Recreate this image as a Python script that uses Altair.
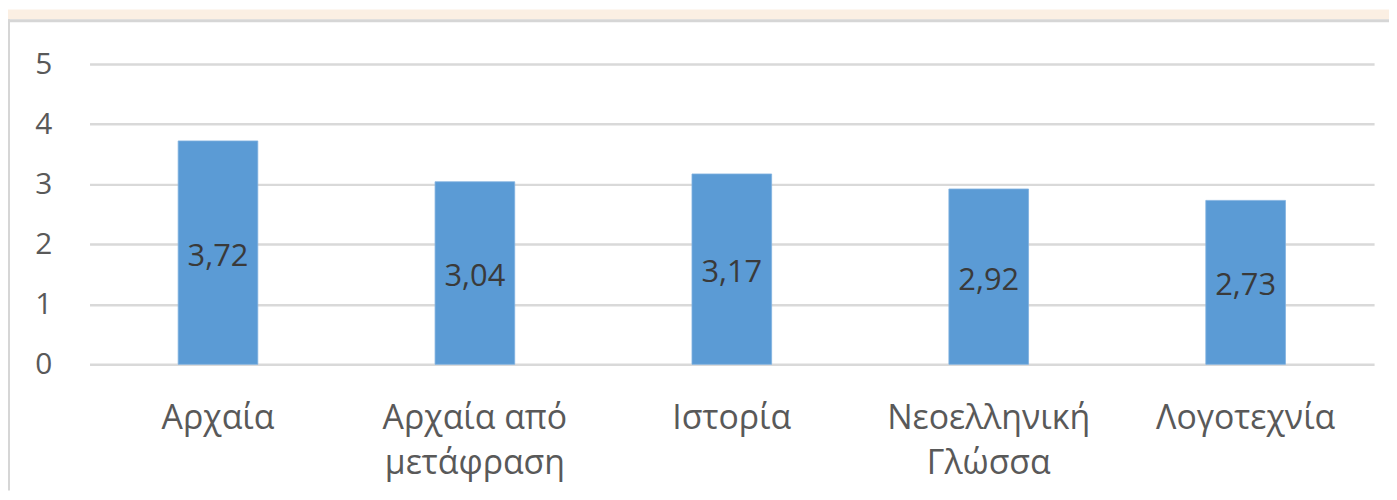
import altair as alt
import pandas as pd

categories = ["Αρχαία", "Αρχαία από\nμετάφραση", "Ιστορία", "Νεοελληνική\nΓλώσσα", "Λογοτεχνία"]
values = [3.72, 3.04, 3.17, 2.92, 2.73]
y_ticks = [0, 1, 2, 3, 4, 5]

df = pd.DataFrame({"cat": categories, "val": values})

FONT = "Open Sans"
W, H = 1292, 302

x_enc = alt.X("cat:N", sort=categories, title=None,
              scale=alt.Scale(paddingInner=0.69, paddingOuter=0.345),
              axis=alt.Axis(labelAngle=0, labelFontSize=34, labelColor="#595959",
                            labelFont=FONT, labelPadding=38, ticks=False, domain=False,
                            labelBaseline="top", labelLineHeight=45, labelLimit=400,
                            labelExpr="split(datum.label, '\\n')"))
y_enc = alt.Y("val:Q", title=None,
              scale=alt.Scale(domain=[0, 5], nice=False),
              axis=alt.Axis(values=y_ticks, format="d", labelFontSize=30, labelColor="#595959",
                            labelFont=FONT, labelPadding=38, ticks=False, domain=False,
                            gridColor="#D9D9D9", gridWidth=2.5))

base = alt.Chart(df)
bars = base.mark_bar(color="#5B9BD5", stroke="#7FB1E0", strokeWidth=0.8).encode(x=x_enc, y=y_enc)

labels = base.transform_calculate(
    half="datum.val / 2",
    lab="replace(format(datum.val, '.2f'), '.', ',')"
).mark_text(font=FONT, fontSize=31, color="#3A3A3A", baseline="middle", dy=4).encode(
    x=alt.X("cat:N", sort=categories),
    y=alt.Y("half:Q"),
    text="lab:N",
)

deco = pd.DataFrame({"a": [0]})
top_band = alt.Chart(deco).mark_rect(color="#FBEFE3").encode(
    x=alt.value(-82), x2=alt.value(W + 15), y=alt.value(-55), y2=alt.value(-45))
top_line = alt.Chart(deco).mark_rect(color="#D6D6D6").encode(
    x=alt.value(-82), x2=alt.value(W + 15), y=alt.value(-45), y2=alt.value(-42))
left_line = alt.Chart(deco).mark_rect(color="#D6D6D6").encode(
    x=alt.value(-82), x2=alt.value(-80), y=alt.value(-45), y2=alt.value(H + 127))

chart = alt.layer(top_band, top_line, left_line, bars, labels).properties(
    width=W, height=H,
    autosize=alt.AutoSizeParams(type="none"),
    padding={"left": 82, "top": 55, "right": 15, "bottom": 127},
    background="white",
).configure_view(stroke=None)

chart.save("out.html", embed_options={"renderer": "svg", "actions": False})
